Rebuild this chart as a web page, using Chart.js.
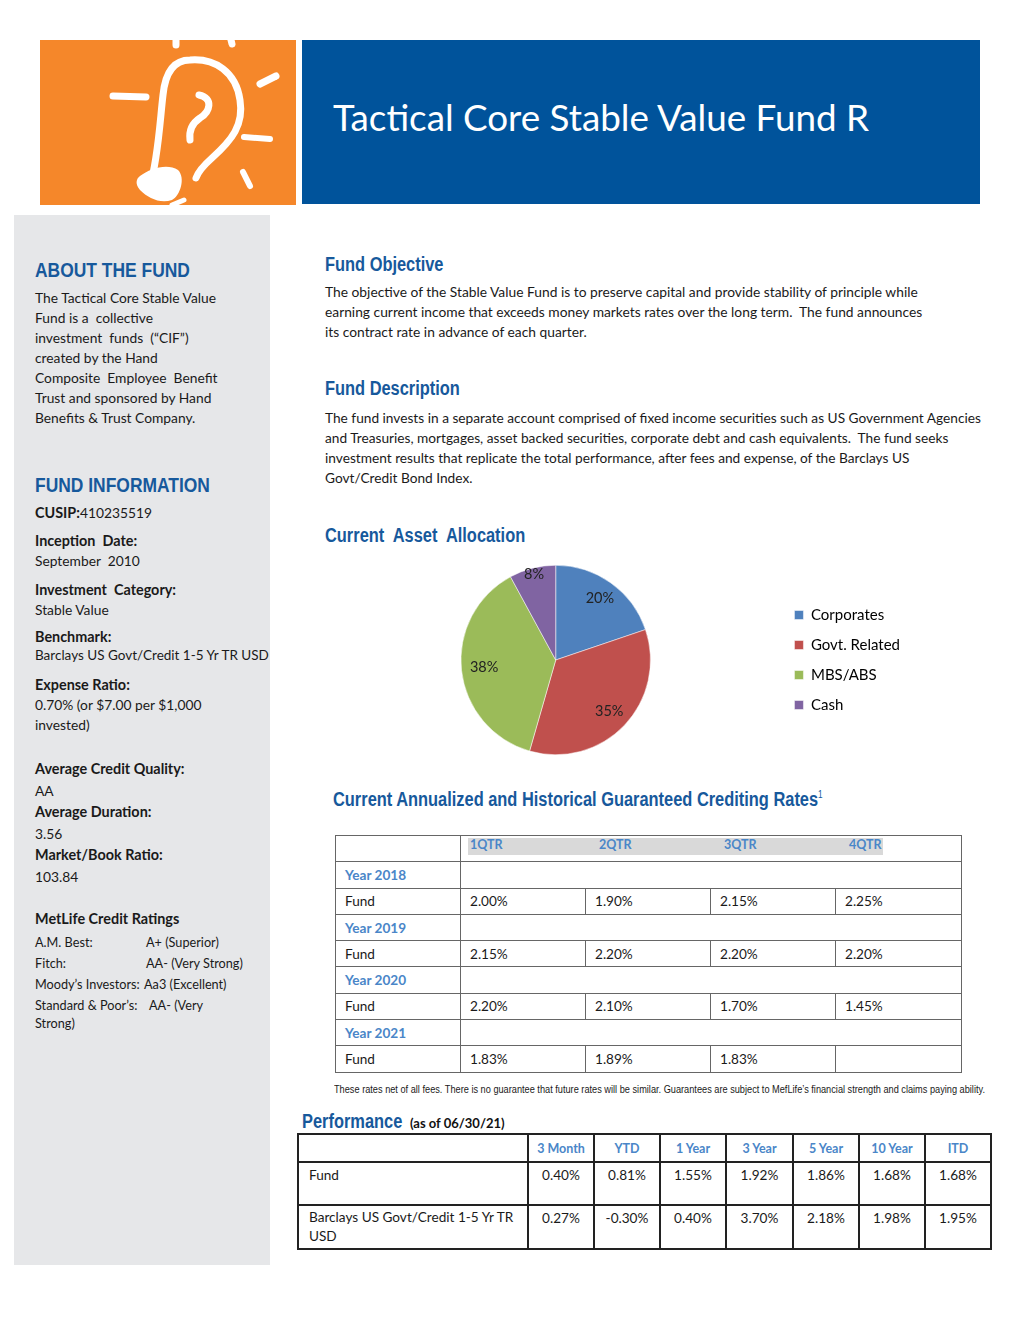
<!DOCTYPE html>
<html lang="en">
<head>
<meta charset="UTF-8">
<title>Tactical Core Stable Value Fund R</title>
<script src="https://cdn.jsdelivr.net/npm/chart.js@4.4.1/dist/chart.umd.min.js"></script>
<style>
  body { margin: 0; width: 1020px; height: 1320px; position: relative; background: #fff;
         font-family: Lato, "Open Sans", sans-serif; color: #1a1a1a; }
  .abs { position: absolute; white-space: nowrap; }
  .side { position: absolute; left: 14px; top: 215px; width: 256px; height: 1050px; background: #e6e7e9; }
  .h-side { font-family: "Liberation Sans", Arial, sans-serif; font-weight: bold;
            font-size: 21px; color: #17599c; transform: scaleX(0.83); transform-origin: left top; }
  .h-main { font-family: "Liberation Sans", Arial, sans-serif; font-weight: bold;
            font-size: 20px; color: #17599c; transform: scaleX(0.82); transform-origin: left top; }
  .txt { font-size: 13.8px; line-height: 20px; }
  .lbl { font-weight: bold; font-size: 14.4px; }
  .small { font-size: 12.7px; }
  table { border-collapse: collapse; table-layout: fixed; position: absolute; font-size: 13.6px; }
  #rates td { border: 1.5px solid #666; height: 25.3px; padding: 0 0 0 9px; }
  #rates .yr { color: #4a86c8; font-weight: bold; }
  #rates .hd { position: relative; border-left: 1.5px solid #666; }
  #perf td { border: 2px solid #222; padding: 0; vertical-align: top; text-align: center; }
  #perf th { border: 2px solid #222; color: #4a86c8; font-weight: bold; font-size: 12.5px; height: 26px; padding: 0; }
</style>
</head>
<body>

<!-- header -->
<div class="abs" style="left:40px;top:40px;width:256px;height:165px;background:#f5872a;overflow:hidden">
  <svg width="256" height="165" viewBox="40 40 256 165">
    <g stroke="#fff" stroke-linecap="round" fill="none">
      <path d="M113 96 L146 97" stroke-width="7"/>
      <path d="M176 40 L176 45" stroke-width="7"/>
      <path d="M231 40 L232 44" stroke-width="7"/>
      <path d="M260 84 L276 76" stroke-width="7"/>
      <path d="M244 137 L270 139" stroke-width="6"/>
      <path d="M243 172 L250 186" stroke-width="6"/>
      <path d="M172 205 L184 200" stroke-width="5"/>
      <path d="M150 185 C158 160 160 120 163 95 C165 75 172 60 190 60 C215 58 236 72 240 100 C244 125 232 140 212 158 C203 166 198 172 196 178" stroke-width="7"/>
      <path d="M199 95 C214 98 210 112 200 118 C191 124 189 132 190 140" stroke-width="7"/>
    </g>
    <path d="M140 176 C150 168 168 163 178 170 C186 178 180 196 172 200 C160 204 148 198 140 190 C135 184 136 179 140 176 Z" fill="#fff"/>
  </svg>
</div>
<div class="abs" style="left:302px;top:40px;width:678px;height:164px;background:#00539b"></div>
<div class="abs" style="left:333px;top:94px;font-size:36.8px;color:#fff;line-height:46px">Tactical Core Stable Value Fund R</div>

<!-- sidebar -->
<div class="side"></div>
<div class="abs h-side" style="left:35px;top:258px">ABOUT THE FUND</div>
<div class="abs txt" style="left:35px;top:288px">The Tactical Core Stable Value<br>Fund is a&nbsp; collective<br>investment&nbsp; funds&nbsp; (“CIF”)<br>created by the Hand<br>Composite&nbsp; Employee&nbsp; Benefit<br>Trust and sponsored by Hand<br>Benefits &amp; Trust Company.</div>

<div class="abs h-side" style="left:35px;top:473px">FUND INFORMATION</div>
<div class="abs txt" style="left:35px;top:503px"><span class="lbl">CUSIP:</span>410235519</div>
<div class="abs txt" style="left:35px;top:531px"><span class="lbl">Inception&nbsp; Date:</span><br>September&nbsp; 2010</div>
<div class="abs txt" style="left:35px;top:580px"><span class="lbl">Investment&nbsp; Category:</span><br>Stable Value</div>
<div class="abs txt" style="left:35px;top:628px;line-height:18px"><span class="lbl">Benchmark:</span><br><span style="font-size:13.5px">Barclays US Govt/Credit 1-5 Yr TR USD</span></div>
<div class="abs txt" style="left:35px;top:675px"><span class="lbl">Expense Ratio:</span><br>0.70% (or $7.00 per $1,000<br>invested)</div>
<div class="abs txt" style="left:35px;top:758px;line-height:21.5px"><span class="lbl">Average Credit Quality:</span><br>AA<br><span class="lbl">Average Duration:</span><br>3.56<br><span class="lbl">Market/Book Ratio:</span><br>103.84</div>
<div class="abs txt lbl" style="left:35px;top:909px">MetLife Credit Ratings</div>
<div class="abs txt small" style="left:35px;top:932px;line-height:21px">A.M. Best:<br>Fitch:<br>Moody’s Investors:<br>Standard &amp; Poor’s:</div>
<div class="abs txt small" style="left:146px;top:932px;line-height:21px">A+ (Superior)<br>AA- (Very Strong)</div>
<div class="abs txt small" style="left:144px;top:974px;line-height:21px">Aa3 (Excellent)</div>
<div class="abs txt small" style="left:149px;top:995px;line-height:21px">AA- (Very</div>
<div class="abs txt small" style="left:35px;top:1013px;line-height:21px">Strong)</div>

<!-- main column -->
<div class="abs h-main" style="left:325px;top:253px">Fund Objective</div>
<div class="abs txt" style="left:325px;top:282px">The objective of the Stable Value Fund is to preserve capital and provide stability of principle while<br>earning current income that exceeds money markets rates over the long term.&nbsp; The fund announces<br>its contract rate in advance of each quarter.</div>

<div class="abs h-main" style="left:325px;top:377px">Fund Description</div>
<div class="abs txt" style="left:325px;top:408px;font-size:13.7px">The fund invests in a separate account comprised of fixed income securities such as US Government Agencies<br>and Treasuries, mortgages, asset backed securities, corporate debt and cash equivalents.&nbsp; The fund seeks<br>investment results that replicate the total performance, after fees and expense, of the Barclays US<br>Govt/Credit Bond Index.</div>

<div class="abs h-main" style="left:325px;top:524px">Current&nbsp; Asset&nbsp; Allocation</div>
<div class="abs" style="left:332px;top:560px;width:578px;height:200px">
  <canvas id="alloc" width="578" height="200"></canvas>
</div>

<div class="abs h-main" style="left:333px;top:788px">Current Annualized and Historical Guaranteed Crediting Rates<sup style="font-size:10px;font-weight:normal">1</sup></div>
<table id="rates" style="left:335px;top:835px;width:626px"></table>
<div class="abs" style="left:334px;top:1084px;font-family:'Liberation Sans',sans-serif;font-size:10px;transform:scaleX(0.92);transform-origin:left top">These rates net of all fees. There is no guarantee that future rates will be similar. Guarantees are subject to MefLife’s financial strength and claims paying ability.</div>

<div class="abs h-main" style="left:302px;top:1110px">Performance</div>
<div class="abs" style="left:410px;top:1115px;font-size:13px;font-weight:bold;color:#111">(as of 06/30/21)</div>
<table id="perf" style="left:297px;top:1133px;width:692px"></table>

<script>
// asset allocation (pie)
var allocCategories = ['Corporates', 'Govt. Related', 'MBS/ABS', 'Cash'];
var allocValues = [20, 35, 38, 8];
var allocColors = ['#4f81bd', '#c0504d', '#9bbb59', '#8064a2'];

// crediting rates table
var qtrLabels = ['1QTR', '2QTR', '3QTR', '4QTR'];
var rateYears = ['Year 2018', 'Year 2019', 'Year 2020', 'Year 2021'];
var rates2018 = ['2.00%', '1.90%', '2.15%', '2.25%'];
var rates2019 = ['2.15%', '2.20%', '2.20%', '2.20%'];
var rates2020 = ['2.20%', '2.10%', '1.70%', '1.45%'];
var rates2021 = ['1.83%', '1.89%', '1.83%', ''];

// performance table
var perfPeriods = ['3 Month', 'YTD', '1 Year', '3 Year', '5 Year', '10 Year', 'ITD'];
var perfFund = ['0.40%', '0.81%', '1.55%', '1.92%', '1.86%', '1.68%', '1.68%'];
var perfBench = ['0.27%', '-0.30%', '0.40%', '3.70%', '2.18%', '1.98%', '1.95%'];

// build rates table
var rateRows = [rates2018, rates2019, rates2020, rates2021];
var html = '<colgroup><col style="width:125px"><col style="width:125px"><col style="width:125px"><col style="width:125px"><col style="width:126px"></colgroup>';
var hdOff = [9, 138, 263, 388];
html += '<tr><td></td><td class="hd" colspan="4" style="padding:0">' +
  '<div style="position:absolute;left:7px;top:2px;width:415px;height:17px;background:#d9d9d9"></div>';
qtrLabels.forEach(function(q, i) {
  html += '<span style="position:absolute;left:' + hdOff[i] + 'px;top:1px;color:#4a86c8;font-weight:bold;font-size:12.5px">' + q + '</span>';
});
html += '</td></tr>';
rateYears.forEach(function(y, i) {
  html += '<tr><td class="yr">' + y + '</td><td colspan="4"></td></tr>';
  html += '<tr><td>Fund</td>';
  rateRows[i].forEach(function(v) { html += '<td>' + v + '</td>'; });
  html += '</tr>';
});
document.getElementById('rates').innerHTML = html;

// build performance table
var p = '<colgroup><col style="width:230px">';
perfPeriods.forEach(function(x, i) { p += '<col style="width:' + (i == 3 ? 67 : 66) + 'px">'; });
p += '</colgroup><tr><th></th>';
perfPeriods.forEach(function(x) { p += '<th>' + x + '</th>'; });
p += '</tr><tr><td style="text-align:left;padding:4px 0 0 10px;height:37px">Fund</td>';
perfFund.forEach(function(v) { p += '<td style="padding-top:4px">' + v + '</td>'; });
p += '</tr><tr><td style="text-align:left;padding:2px 0 0 10px;height:40px;line-height:19px">Barclays US Govt/Credit 1-5 Yr TR<br>USD</td>';
perfBench.forEach(function(v) { p += '<td style="padding-top:4px">' + v + '</td>'; });
p += '</tr>';
document.getElementById('perf').innerHTML = p;

// labels drawn on the slices
var labelRadius = [0.8, 0.78, 0.76, 0.93];
var pieLabels = {
  id: 'pieLabels',
  afterDatasetsDraw: function(chart) {
    var ctx = chart.ctx;
    var meta = chart.getDatasetMeta(0);
    ctx.save();
    ctx.font = '14.5px Lato';
    ctx.fillStyle = '#222';
    ctx.textAlign = 'center';
    ctx.textBaseline = 'middle';
    meta.data.forEach(function(arc, i) {
      var a = arc.getProps(['x', 'y', 'startAngle', 'endAngle', 'outerRadius']);
      var mid = (a.startAngle + a.endAngle) / 2;
      var r = a.outerRadius * labelRadius[i];
      ctx.fillText(allocValues[i] + '%', a.x + Math.cos(mid) * r, a.y + Math.sin(mid) * r);
    });
    ctx.restore();
  }
};

var chart = new Chart(document.getElementById('alloc'), {
  type: 'pie',
  data: {
    labels: allocCategories,
    datasets: [{
      data: allocValues,
      backgroundColor: allocColors,
      borderColor: '#ffffff',
      borderWidth: 0.5
    }]
  },
  options: {
    responsive: false,
    animation: false,
    layout: { padding: { top: 5, bottom: 5, left: 0, right: 0 } },
    plugins: {
      legend: {
        position: 'right',
        align: 'center',
        labels: {
          boxWidth: 9,
          boxHeight: 9,
          padding: 15,
          color: '#000',
          font: { family: 'Lato', size: 15 }
        }
      },
      tooltip: { enabled: false }
    }
  },
  plugins: [pieLabels]
});
</script>
</body>
</html>
